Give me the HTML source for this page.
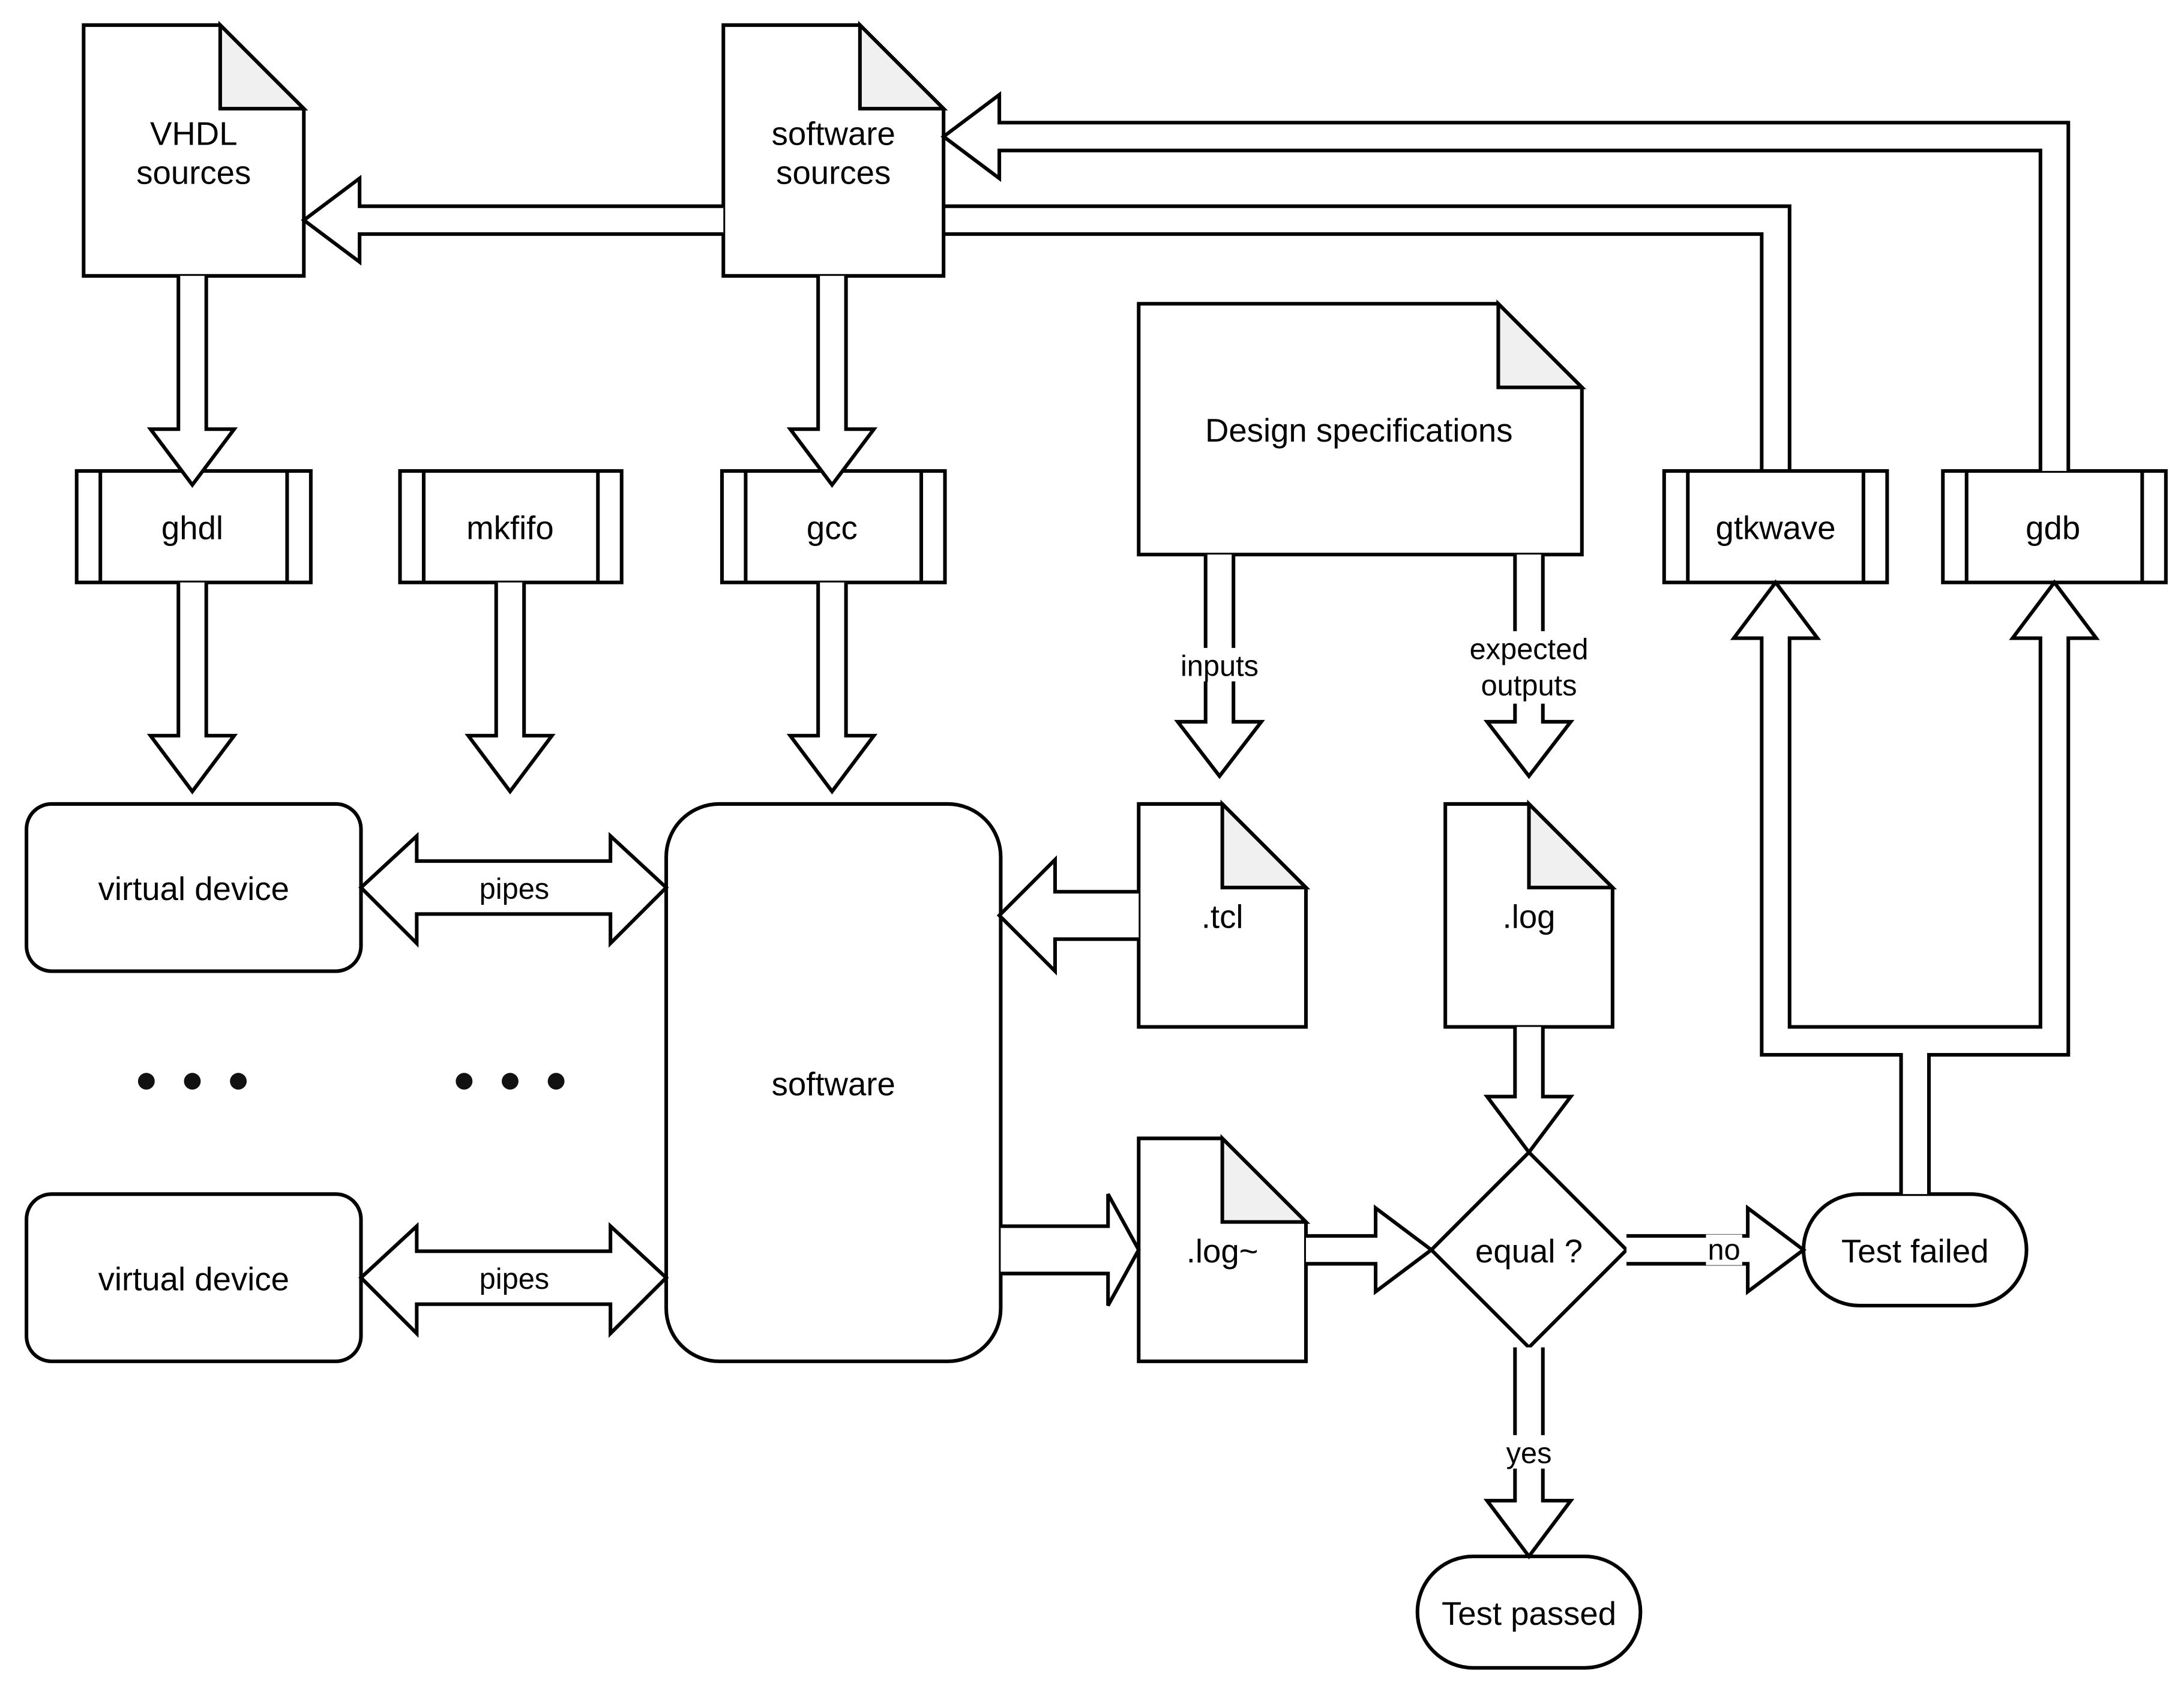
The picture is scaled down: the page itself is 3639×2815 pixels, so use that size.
<!DOCTYPE html>
<html><head><style>html,body{margin:0;padding:0;background:#fff}svg{display:block}</style></head>
<body>
<svg width="3639" height="2815" viewBox="0 0 1567 1212" preserveAspectRatio="xMinYMin meet" xmlns="http://www.w3.org/2000/svg" font-family="Liberation Sans, sans-serif" font-size="23.5" text-anchor="middle">
<rect width="1567" height="1212" fill="#fff"/>
<g fill="#fff" stroke="#000" stroke-width="2.6" stroke-linejoin="miter">
<path d="M60,18H158L218,78V198H60Z"/><path d="M158,18V78H218Z" fill="#f0f0f0"/>
<path d="M519,18H617L677,78V198H519Z"/><path d="M617,18V78H677Z" fill="#f0f0f0"/>
<path d="M817,218H1075L1135,278V398H817Z"/><path d="M1075,218V278H1135Z" fill="#f0f0f0"/>
<path d="M817,577H877L937,637V737H817Z"/><path d="M877,577V637H937Z" fill="#f0f0f0"/>
<path d="M1037,577H1097L1157,637V737H1037Z"/><path d="M1097,577V637H1157Z" fill="#f0f0f0"/>
<path d="M817,817H877L937,877V977H817Z"/><path d="M877,817V877H937Z" fill="#f0f0f0"/>
<rect x="55" y="338" width="168" height="80"/><path d="M72,338V418M206,338V418"/>
<rect x="287" y="338" width="159" height="80"/><path d="M304,338V418M429,338V418"/>
<rect x="518" y="338" width="160" height="80"/><path d="M535,338V418M661,338V418"/>
<rect x="1194" y="338" width="160" height="80"/><path d="M1211,338V418M1337,338V418"/>
<rect x="1394" y="338" width="160" height="80"/><path d="M1411,338V418M1537,338V418"/>
<rect x="19" y="577" width="240" height="120" rx="18"/>
<rect x="19" y="857" width="240" height="120" rx="18"/>
<rect x="478" y="577" width="240" height="400" rx="38"/>
<rect x="1294" y="857" width="160" height="80" rx="40"/>
<rect x="1017" y="1117" width="160" height="80" rx="40"/>
<path d="M1097,827L1167,897L1097,967L1027,897Z"/>
<path d="M128,198V308H108L138,348L168,308H148V198"/>
<path d="M128,418V528H108L138,568L168,528H148V418"/>
<path d="M356,418V528H336L366,568L396,528H376V418"/>
<path d="M587,198V308H567L597,348L627,308H607V198"/>
<path d="M587,418V528H567L597,568L627,528H607V418"/>
<path d="M865,398V518H845L875,557L905,518H885V398"/>
<path d="M1087,398V518H1067L1097,557L1127,518H1107V398"/>
<path d="M1087,737V787H1067L1097,827L1127,787H1107V737"/>
<path d="M1087,967V1077H1067L1097,1117L1127,1077H1107V967"/>
<path d="M519,148H258V128L218,158L258,188V168H519"/>
<path d="M1284,338V148H677M1264,338V168H677" fill="none"/>
<path d="M1484,338V88H717V68L677,98L717,128V108H1464V338"/>
<path d="M1364,857V757H1264V458H1244L1274,418L1304,458H1284V737H1464V458H1444L1474,418L1504,458H1484V757H1384V857"/>
<path d="M817,640H757V617L717,657L757,697V674H817"/>
<path d="M718,880H795V857L817,897L795,937V914H718"/>
<path d="M937,887H987V867L1027,897L987,927V907H937"/>
<path d="M1167,887H1254V867L1294,897L1254,927V907H1167"/>
<path d="M259,637L299,600V618H438V600L478,637L438,677V656H299V677Z"/>
<path d="M259,917L299,880V898H438V880L478,917L438,957V936H299V957Z"/>
</g>
<g fill="#111">
<circle cx="105" cy="776" r="6"/><circle cx="138" cy="776" r="6"/><circle cx="171" cy="776" r="6"/>
<circle cx="333" cy="776" r="6"/><circle cx="366" cy="776" r="6"/><circle cx="399" cy="776" r="6"/>
</g>
<g fill="#fff"><rect x="843" y="465" width="64" height="24"/><rect x="1050" y="453" width="94" height="52"/><rect x="1076" y="1030" width="42" height="24"/><rect x="1224" y="886" width="26" height="22"/></g>
<g fill="#000">
<text x="139" y="104">VHDL</text><text x="139" y="132">sources</text>
<text x="598" y="104">software</text><text x="598" y="132">sources</text>
<text x="975" y="317">Design specifications</text>
<text x="138" y="387">ghdl</text><text x="366" y="387">mkfifo</text><text x="597" y="387">gcc</text>
<text x="1274" y="387">gtkwave</text><text x="1473" y="387">gdb</text>
<text x="139" y="646">virtual device</text><text x="139" y="926">virtual device</text>
<text x="598" y="786">software</text>
<text x="877" y="666">.tcl</text><text x="1097" y="666">.log</text><text x="877" y="906">.log~</text>
<text x="1097" y="906">equal ?</text>
<text x="1374" y="906">Test failed</text><text x="1097" y="1166">Test passed</text>
<g font-size="21"><text x="369" y="645">pipes</text><text x="369" y="925">pipes</text>
<text x="875" y="485">inputs</text><text x="1097" y="473">expected</text><text x="1097" y="499">outputs</text>
<text x="1097" y="1050">yes</text><text x="1237" y="904">no</text></g>
</g>
</svg>
</body></html>
